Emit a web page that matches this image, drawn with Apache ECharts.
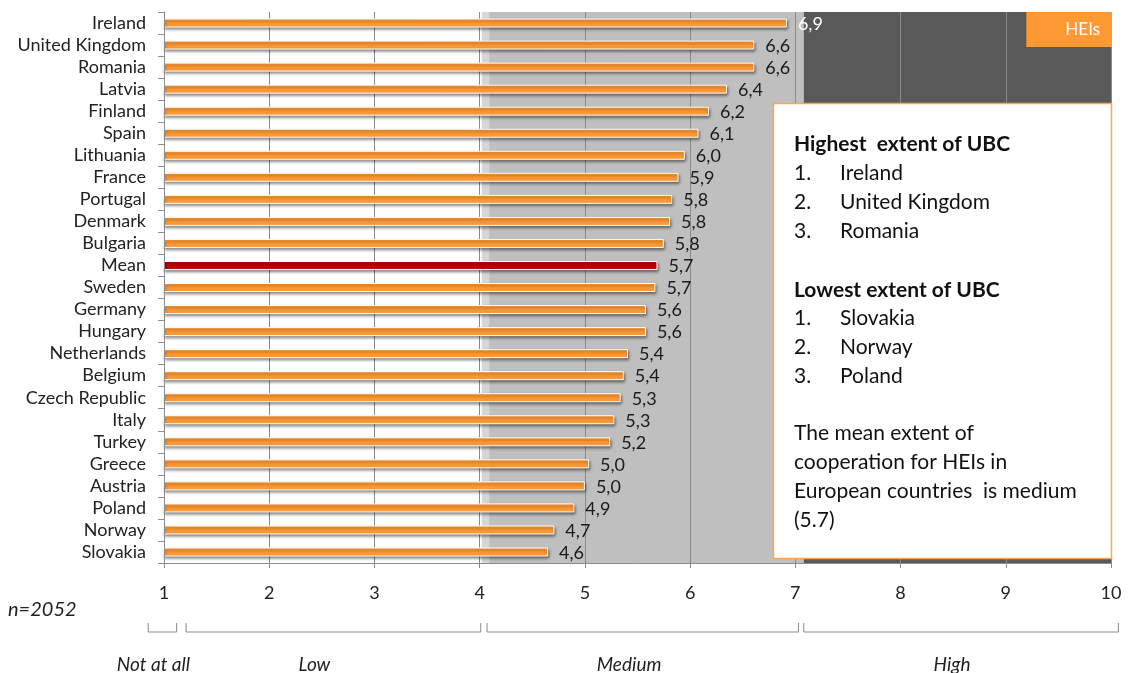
<!DOCTYPE html>
<html><head><meta charset="utf-8">
<script src="https://cdn.jsdelivr.net/npm/echarts@6/dist/echarts.min.js"></script>
<style>html,body{margin:0;padding:0;background:#fff}#c{width:1135px;height:673px}</style>
</head><body><div id="c"></div>
<script>
const categories = ["Ireland","United Kingdom","Romania","Latvia","Finland","Spain","Lithuania","France","Portugal","Denmark","Bulgaria","Mean","Sweden","Germany","Hungary","Netherlands","Belgium","Czech Republic","Italy","Turkey","Greece","Austria","Poland","Norway","Slovakia"];
const values = [6.92,6.61,6.61,6.35,6.18,6.08,5.95,5.89,5.83,5.81,5.75,5.69,5.67,5.58,5.58,5.41,5.37,5.34,5.28,5.24,5.04,5.00,4.90,4.71,4.65];
const valueLabels = ["6,9","6,6","6,6","6,4","6,2","6,1","6,0","5,9","5,8","5,8","5,8","5,7","5,7","5,6","5,6","5,4","5,4","5,3","5,3","5,2","5,0","5,0","4,9","4,7","4,6"];
const bandFrom = [4.02, 4.09, 7.08];
const bandTo = [4.09, 7.08, 10];
const scaleLabels = ["Not at all","Low","Medium","High"];
const scaleFrom = [0.85, 1.21, 4.07, 7.08];
const scaleTo = [1.12, 4.01, 7.03, 10.07];
const scaleLabelAt = [0.9, 2.43, 5.42, 8.49];
const seriesName = "HEIs";
const sampleNote = "n=2052";

const FONT = "Lato";
const bandColors = ["#d6d6d6", "#bfbfbf", "#595959"];
const chart = echarts.init(document.getElementById('c'), null, {renderer:'canvas'});

const barData = values.map((v, i) => {
  const item = {value: v};
  if (categories[i] === 'Mean') item.itemStyle = {color: '#c00000'};
  if (v > 6.9) item.label = {color: '#ffffff'};
  return item;
});

const boxLines = [
  {t:"Highest  extent of UBC", y:144, bold:true},
  {n:"1.", t:"Ireland", y:173},
  {n:"2.", t:"United Kingdom", y:202},
  {n:"3.", t:"Romania", y:231},
  {t:"Lowest extent of UBC", y:290, bold:true},
  {n:"1.", t:"Slovakia", y:318},
  {n:"2.", t:"Norway", y:347},
  {n:"3.", t:"Poland", y:376},
  {t:"The mean extent of", y:433},
  {t:"cooperation for HEIs in", y:462},
  {t:"European countries  is medium", y:491},
  {t:"(5.7)", y:520}
];
const boxEls = [{type:'rect', shape:{x:773.5, y:103.5, width:338, height:455}, style:{fill:'#fff', stroke:'#ffa64d', lineWidth:1.5}, z:10}];
boxLines.forEach(l => {
  if (l.n) boxEls.push({type:'text', x:794, y:l.y, style:{text:l.n, font:'21px '+FONT, fill:'#111', textVerticalAlign:'middle'}, z:11});
  boxEls.push({type:'text', x:l.n ? 840 : 794, y:l.y, style:{text:l.t, font:(l.bold?'bold ':'')+'21px '+FONT, fill:'#111', textVerticalAlign:'middle'}, z:11});
});

const option = {
  animation: false,
  textStyle: {fontFamily: FONT},
  grid: {left:164, right:24, top:12, bottom:110, containLabel:false},
  legend: {
    data:[seriesName], right:23, top:12, icon:'none', itemWidth:0, itemHeight:0,
    backgroundColor:'#ff9933', padding:[9,12,9,34],
    textStyle:{color:'#fff', fontSize:17, fontFamily:FONT}
  },
  xAxis: {
    type:'value', min:1, max:10, interval:1, z:1,
    axisLine:{show:true, lineStyle:{color:'#8c8c8c'}},
    axisTick:{show:true, length:5, lineStyle:{color:'#8c8c8c'}},
    axisLabel:{margin:21, fontSize:18, color:'#222', fontFamily:FONT},
    splitLine:{show:true, lineStyle:{color:'#8a8a8a', width:1}}
  },
  yAxis: {
    type:'category', data:categories, inverse:true, z:3,
    axisLine:{show:true, lineStyle:{color:'#8c8c8c'}},
    axisTick:{show:true, length:6, interval:0, lineStyle:{color:'#8c8c8c'}},
    axisLabel:{margin:18, interval:0, fontSize:18, color:'#222', fontFamily:FONT}
  },
  series: [
    {
      type:'custom', z:0, silent:true, clip:false,
      data: bandFrom.map((f, i) => [f, bandTo[i], i]),
      encode:{x:[0,1], y:2},
      renderItem: (params, api) => {
        const cs = params.coordSys;
        const x0 = api.coord([api.value(0), 0])[0];
        const x1 = api.coord([api.value(1), 0])[0];
        return {type:'rect', shape:{x:x0, y:cs.y, width:x1-x0, height:cs.height}, style:{fill:bandColors[api.value(2)]}};
      }
    },
    {
      name: seriesName, type:'bar', z:2, data: barData, barWidth:9,
      itemStyle:{color:'#ff9933', borderColor:'#ffffff', borderWidth:1,
        shadowColor:'rgba(0,0,0,0.45)', shadowBlur:3, shadowOffsetX:1, shadowOffsetY:2},
      label:{show:true, position:'right', distance:11, fontSize:18, color:'#1a1a1a', fontFamily:FONT,
        offset:[0,1], formatter: p => valueLabels[p.dataIndex]}
    }
  ]
};
chart.setOption(option);

function px(v) { return chart.convertToPixel({xAxisIndex:0}, v); }
const extra = [];
extra.push({type:'text', x:8, y:610, style:{text:sampleNote, font:'italic 20px '+FONT, fill:'#222', textVerticalAlign:'middle'}});
scaleLabels.forEach((s, i) => {
  const a = px(scaleFrom[i]), b = px(scaleTo[i]);
  extra.push({type:'polyline', shape:{points:[[a,623],[a,632],[b,632],[b,623]]}, style:{stroke:'#8c8c8c', lineWidth:1, fill:null}});
  extra.push({type:'text', x:px(scaleLabelAt[i]), y:665, style:{text:s, font:'italic 19px '+FONT, fill:'#222', textAlign:'center', textVerticalAlign:'middle'}});
});
chart.setOption({graphic: boxEls.concat(extra)});
</script></body></html>
